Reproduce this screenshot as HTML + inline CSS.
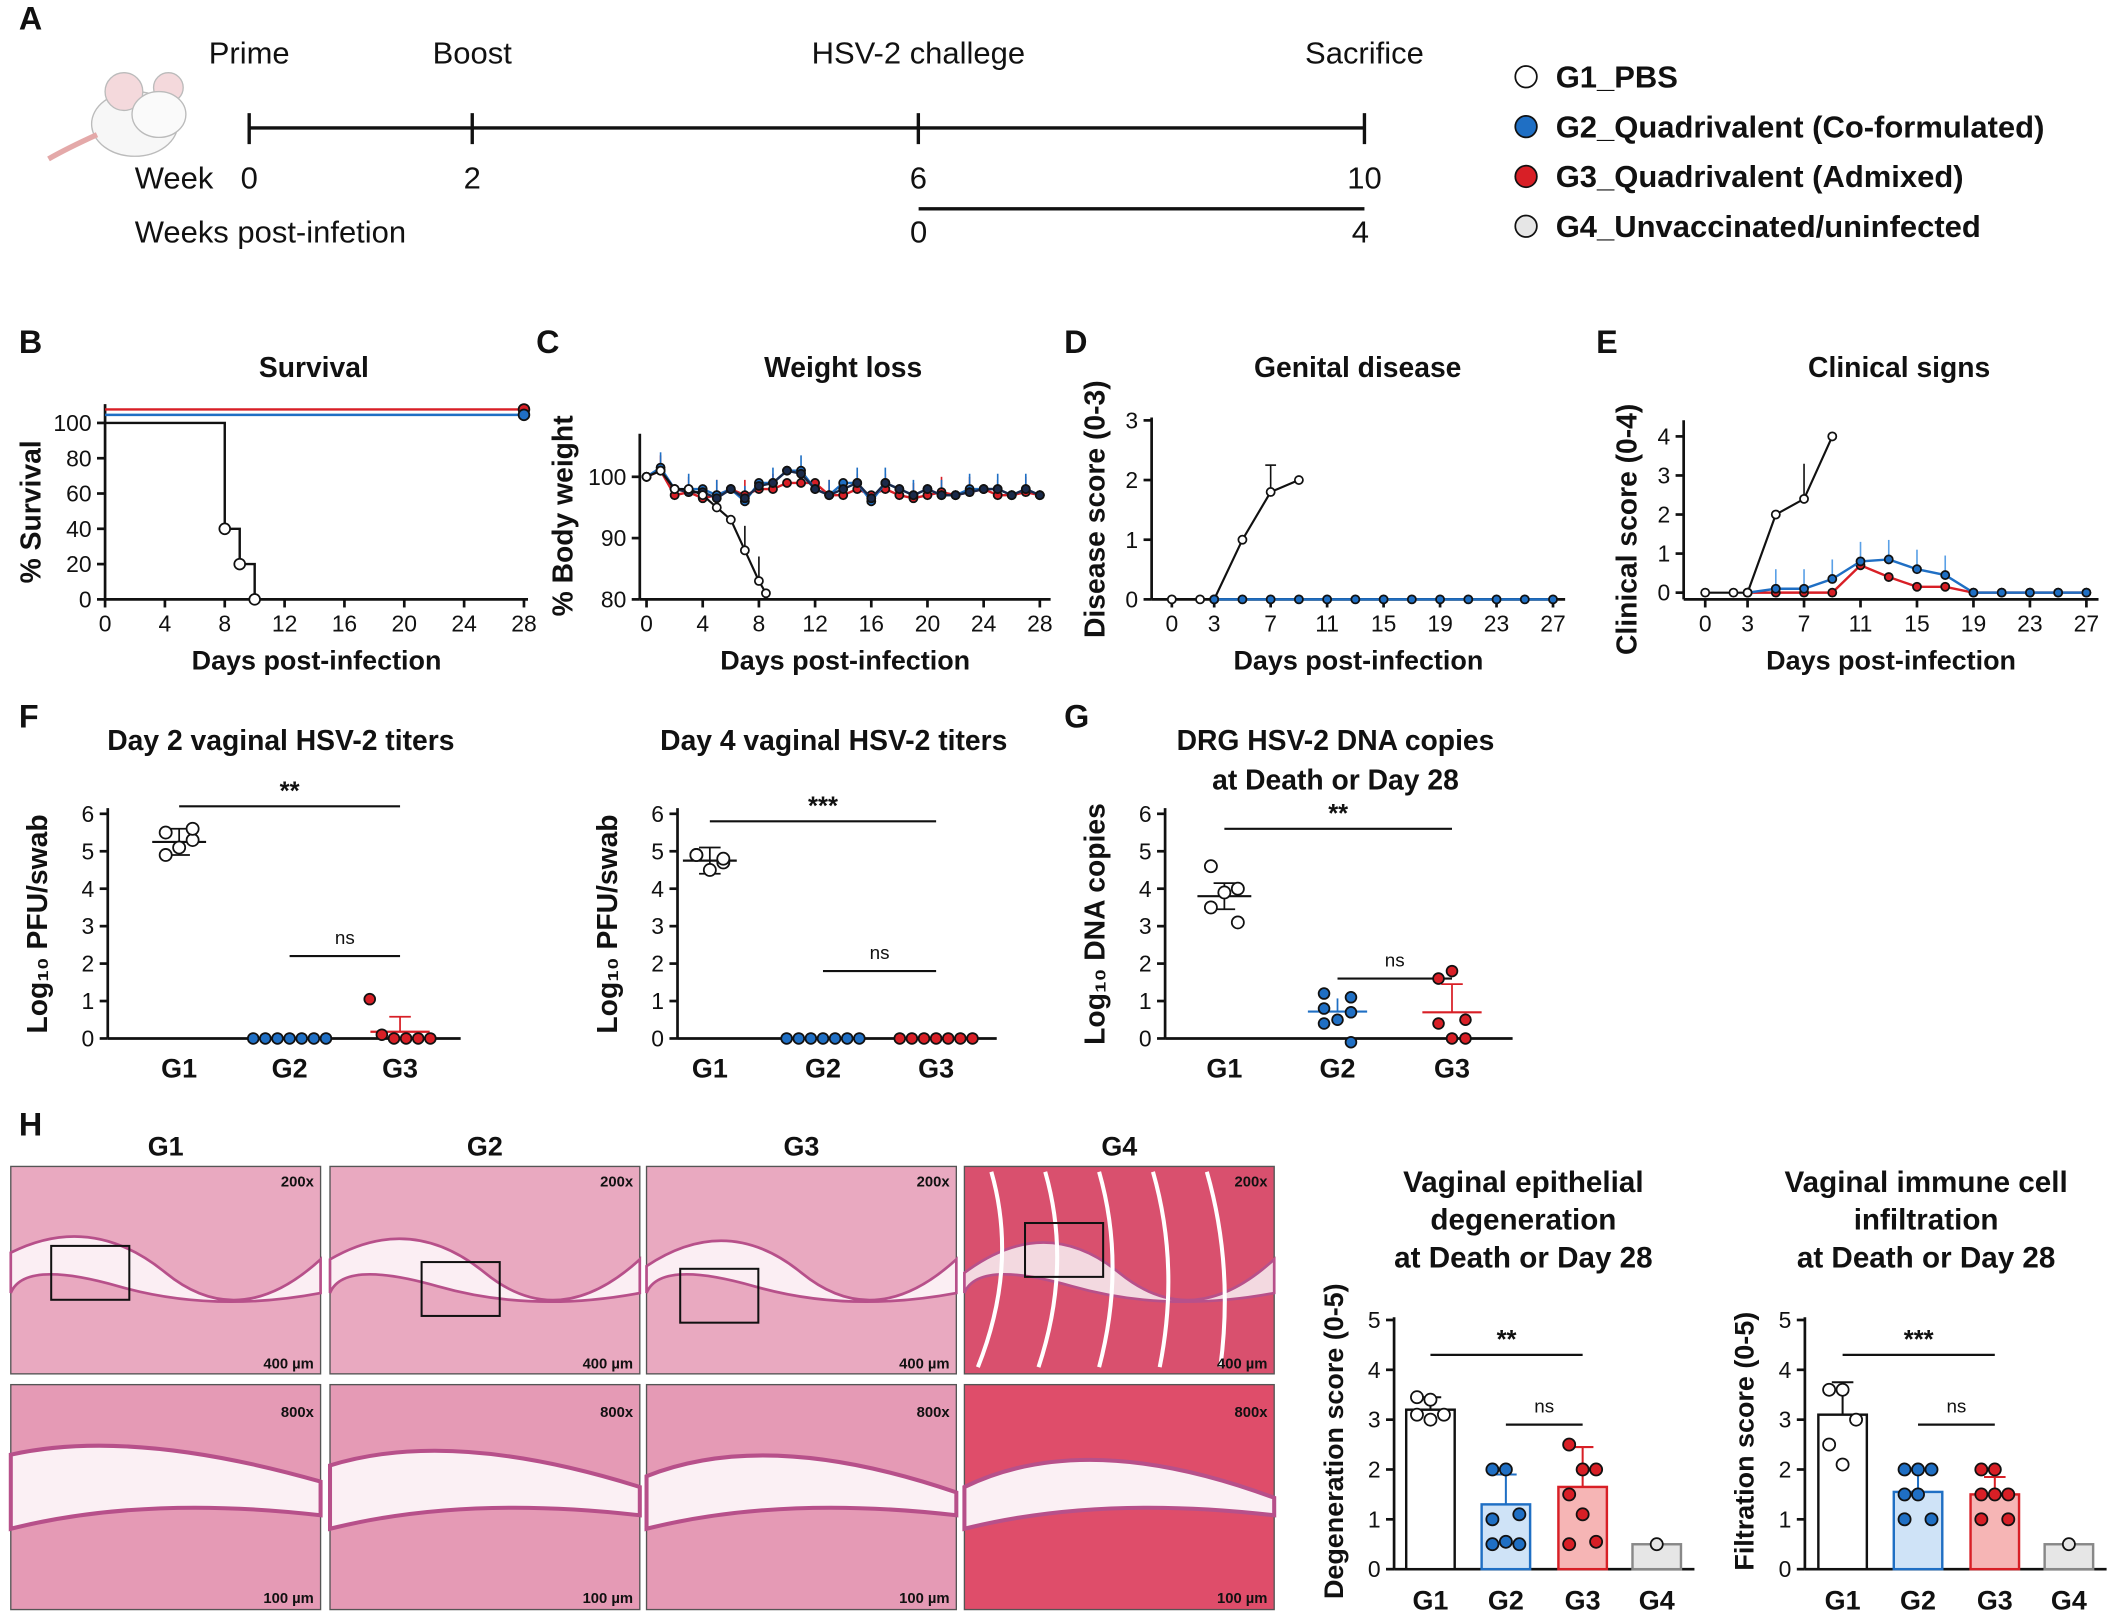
<!DOCTYPE html>
<html><head><meta charset="utf-8"><style>
html,body{margin:0;padding:0;background:#fff}
svg{display:block}
text{font-family:"Liberation Sans",Arial,sans-serif}
</style></head><body>
<svg id="fig" width="2112" height="1619" viewBox="0 0 1568 1202" xmlns="http://www.w3.org/2000/svg"></svg>
<script>
// ---------- DATA ----------
const legendLabels=["G1_PBS","G2_Quadrivalent (Co-formulated)","G3_Quadrivalent (Admixed)","G4_Unvaccinated/uninfected"];
const legendColors=["#fff","#1f6fc4","#d81f26","#e6e6e6"];
const timelineWeeks=[0,2,6,10];
const timelineEvents=["Prime","Boost","HSV-2 challege","Sacrifice"];
const survDaysG1=[0,8,8,9,9,10];
const survValsG1=[100,100,40,40,20,20];
const survPtsDays=[8,9,10];
const survPtsVals=[40,20,0];
const wDays=[0,1,2,3,4,5,6,7,8,9,10,11,12,13,14,15,16,17,18,19,20,21,22,23,24,25,26,27,28];
const wG1Days=[0,1,2,3,4,5,6,7,8,8.5];
const wG1=[100,101,98,98,97,95,93,88,83,81];
const wG2=[100,101.5,98,98,98,97,98,96,99,99,101,101,98,97,99,99,96,99,98,97,98,97,97,98,98,98,97,98,97];
const wG3=[100,101,97,97.5,96.5,97,98,97,98,98,99,99,99,97,97,98,97,98,97,96.5,97,97.5,97,97.5,98,97,97,97.5,97];
const wG4=[100,101,98,97.5,97.5,96.5,98,96.5,98.5,99,101,100.5,98,97,98,99,96.5,99,98,97,98,97,97,97.5,98,98,97,98,97];
const dDaysG1=[0,2,3,5,7,9];
const dG1=[0,0,0,1,1.8,2];
const dDaysG2=[3,5,7,9,11,13,15,17,19,21,23,25,27];
const dG2=[0,0,0,0,0,0,0,0,0,0,0,0,0];
const cG1=[0,0,0,2,2.4,4];
const cG2=[0,0.1,0.1,0.35,0.8,0.85,0.6,0.45,0,0,0,0,0];
const cG3=[0,0,0,0,0.7,0.4,0.15,0.15,0,0,0,0,0];
const f2G1=[5.5,5.3,5.1,4.9,5.6];
const f2G3=[1.05,0.1,0,0,0,0];
const f4G1=[4.9,4.7,4.5,4.9,4.8];
const gG1=[4.6,4.0,3.9,3.5,3.1];
const gG2=[1.2,1.1,0.8,0.7,0.5,0.4,-0.1];
const gG3=[1.8,1.6,0.5,0.4,0,0];
const barCats=["G1","G2","G3","G4"];
const degVals=[3.2,1.3,1.65,0.5];
const degErr=[0.25,0.6,0.8,0];
const degPts=[[3.45,3.4,3.1,3.1,3.0],[2.0,2.0,1.1,1.0,0.55,0.5,0.5],[2.5,2.0,2.0,1.5,1.1,0.55,0.5],[0.5]];
const filVals=[3.1,1.55,1.5,0.5];
const filErr=[0.65,0.45,0.35,0];
const filPts=[[3.6,3.6,3.0,2.5,2.1],[2.0,2.0,2.0,1.5,1.5,1.0,1.0],[2.0,2.0,1.5,1.5,1.5,1.0,1.0],[0.5]];

// ---------- helpers ----------
const NS="http://www.w3.org/2000/svg";const svg=document.getElementById('fig');
function mk(tag,attrs,parent,txt){const e=document.createElementNS(NS,tag);for(const k in attrs)e.setAttribute(k,attrs[k]);if(txt!==undefined)e.textContent=txt;(parent||svg).appendChild(e);return e;}
function T(x,y,s,size,opt){opt=opt||{};const e=mk('text',{x:x,y:y,'font-size':size,'text-anchor':opt.a||'middle','font-weight':opt.b?'bold':'normal',fill:opt.f||'#111'},opt.p,s);if(opt.r)e.setAttribute('transform',`rotate(-90 ${x} ${y})`);return e;}
function L(x1,y1,x2,y2,c,w,p){return mk('line',{x1,y1,x2,y2,stroke:c||'#111','stroke-width':w||2},p);}
function C(x,y,r,f,p){return mk('circle',{cx:x,cy:y,r:r||4,fill:f,stroke:'#111','stroke-width':1.3},p);}
function poly(xs,ys,c,w,p){return mk('polyline',{points:xs.map((x,i)=>x+','+ys[i]).join(' '),fill:'none',stroke:c,'stroke-width':w||1.8},p);}

[["A",14,22],["B",14,262],["C",398,262],["D",790,262],["E",1185,262],["F",14,540],["G",790,540],["H",14,843]].forEach(a=>{const t=T(a[1],a[2],a[0],24,{a:'start',b:1});});

// ---------- Panel A ----------
const gA=mk('g',{});
mk('ellipse',{cx:100,cy:92,rx:32,ry:24,fill:'#f7f7f7',stroke:'#bbb'},gA);
mk('circle',{cx:92,cy:68,r:14,fill:'#f4d9dc',stroke:'#bbb'},gA);
mk('circle',{cx:125,cy:65,r:11,fill:'#f4d9dc',stroke:'#bbb'},gA);
mk('ellipse',{cx:118,cy:85,rx:20,ry:17,fill:'#fafafa',stroke:'#bbb'},gA);
mk('path',{d:'M72 100 Q50 110 36 118',fill:'none',stroke:'#e4a9a9','stroke-width':4},gA);
const wx=w=>185+w*82.8;
L(185,95,1013,95,'#111',2.5,gA);
timelineWeeks.forEach((w,i)=>{L(wx(w),84,wx(w),107,'#111',2.5,gA);T(wx(w),140,String(w),23,{p:gA});T(wx(w),47,timelineEvents[i],23,{p:gA});});
T(100,140,"Week",23,{a:'start',p:gA});
L(682,155,1013,155,'#111',2.5,gA);T(682,180,"0",23,{p:gA});T(1010,180,"4",23,{p:gA});
T(100,180,"Weeks post-infetion",23,{a:'start',p:gA});
const gL=mk('g',{});
legendLabels.forEach((s,i)=>{const y=57+i*37;const g=mk('g',{},gL);C(1133,y,8,legendColors[i],g);T(1155,y+8,s,23,{a:'start',b:1,p:g});});

function axes(name,x0,y0,x1,y1,xt,yt,xs,ys,title,xlab,ylab,tx){
 const g=mk('g',{});
 L(x0,y0,x0,y1,'#111',2,g);L(x0,y0,x1,y0,'#111',2,g);
 if(xt)xt.forEach(v=>{L(xs(v),y0,xs(v),y0+6,'#111',2,g);T(xs(v),y0+24,String(v),17,{p:g});});
 yt.forEach(v=>{L(x0-6,ys(v),x0,ys(v),'#111',2,g);T(x0-10,ys(v)+6,String(v),17,{a:'end',p:g});});
 if(title)T(tx||(x0+x1)/2,280,title,21,{b:1,p:g});
 if(xlab)T((x0+x1)/2,497,xlab,20,{b:1,p:g});
 return g;
}
{const xs=d=>78+d*(311/28),ys=v=>445-v*1.31;
 const g=axes('survival-chart',78,445,392,300,[0,4,8,12,16,20,24,28],[0,20,40,60,80,100],xs,ys,"Survival","Days post-infection",null,233);
 T(30,380,"% Survival",21,{b:1,r:1,p:g});
 L(78,304,389,304,'#d81f26',1.8,g);C(389,304,4,'#d81f26',g);
 L(78,308,389,308,'#1f6fc4',1.8,g);C(389,308,4,'#1f6fc4',g);
 const sx=[],sy=[];survDaysG1.forEach((d,i)=>{sx.push(xs(d));sy.push(ys(survValsG1[i]));});
 sx.push(xs(10));sy.push(ys(0));poly(sx,sy,'#111',1.8,g);
 survPtsDays.forEach((d,i)=>C(xs(d),ys(survPtsVals[i]),4,'#fff',g));}
{const xs=d=>480+d*(292/28),ys=v=>445-(v-80)*4.55;
 const g=axes('weight-loss-chart',475,445,780,322,[0,4,8,12,16,20,24,28],[80,90,100],xs,ys,"Weight loss","Days post-infection",null,626);
 T(425,383,"% Body weight",21,{b:1,r:1,p:g});
 [[wG3,'#d81f26'],[wG2,'#1f6fc4']].forEach(s=>s[0].forEach((v,i)=>{if(i%2==1)L(xs(wDays[i]),ys(v),xs(wDays[i]),ys(v+2.5),s[1],1.2,g);}));
 [[wG3,'#d81f26'],[wG2,'#1f6fc4'],[wG4,'#1a2a4a']].forEach(s=>{poly(wDays.map(xs),s[0].map(ys),s[1],1.8,g);s[0].forEach((v,i)=>C(xs(wDays[i]),ys(v),3,s[1],g));});
 L(xs(7),ys(88),xs(7),ys(92),'#111',1.2,g);L(xs(8),ys(83),xs(8),ys(87),'#111',1.2,g);
 poly(wG1Days.map(xs),wG1.map(ys),'#111',1.6,g);wG1Days.forEach((d,i)=>C(xs(d),ys(wG1[i]),3,'#fff',g));}
{const xs=d=>870+d*(283/27),ys=v=>445-v*44.3;
 const g=axes('genital-disease-chart',855,445,1162,310,[0,3,7,11,15,19,23,27],[0,1,2,3],xs,ys,"Genital disease","Days post-infection",null,1008);
 T(820,378,"Disease score (0-3)",21,{b:1,r:1,p:g});
 L(xs(7),ys(1.8),xs(7),ys(2.25),'#111',1.2,g);L(xs(7)-4,ys(2.25),xs(7)+4,ys(2.25),'#111',1.2,g);
 poly(dDaysG1.map(xs),dG1.map(ys),'#111',1.6,g);dDaysG1.forEach((d,i)=>C(xs(d),ys(dG1[i]),3,'#fff',g));
 poly(dDaysG2.map(xs),dG2.map(ys),'#1f6fc4',1.8,g);dDaysG2.forEach((d,i)=>C(xs(d),ys(dG2[i]),3,'#1f6fc4',g));}
{const xs=d=>1266+d*(283/27),ys=v=>440-v*29;
 const g=axes('clinical-signs-chart',1250,445,1558,312,[0,3,7,11,15,19,23,27],[0,1,2,3,4],xs,ys,"Clinical signs","Days post-infection",null,1410);
 T(1215,393,"Clinical score (0-4)",21,{b:1,r:1,p:g});
 cG2.forEach((v,i)=>{if(v>0)L(xs(dDaysG2[i]),ys(v),xs(dDaysG2[i]),ys(v+0.5),'#5aa0e6',1.2,g);});
 L(xs(7),ys(2.4),xs(7),ys(3.3),'#111',1.2,g);
 poly(dDaysG2.map(xs),cG3.map(ys),'#d81f26',1.8,g);dDaysG2.forEach((d,i)=>C(xs(d),ys(cG3[i]),3,'#d81f26',g));
 poly(dDaysG2.map(xs),cG2.map(ys),'#1f6fc4',1.8,g);dDaysG2.forEach((d,i)=>C(xs(d),ys(cG2[i]),3,'#1f6fc4',g));
 poly(dDaysG1.map(xs),cG1.map(ys),'#111',1.6,g);dDaysG1.forEach((d,i)=>C(xs(d),ys(cG1[i]),3,'#fff',g));}

function dot(name,ax,cx,title,title2,ylab,sig,sigY,g1,g2,g3,g1m,g3m,g3e,g2m){
 const ys=v=>771-v*27.8;
 const g=mk('g',{});
 L(ax,771,ax,600,'#111',2,g);L(ax,771,cx[2]+45,771,'#111',2,g);
 [0,1,2,3,4,5,6].forEach(v=>{L(ax-6,ys(v),ax,ys(v),'#111',2,g);T(ax-10,ys(v)+6,String(v),17,{a:'end',p:g});});
 ["G1","G2","G3"].forEach((s,i)=>T(cx[i],800,s,20,{b:1,p:g}));
 T((ax+cx[2]+40)/2,557,title,21,{b:1,p:g});if(title2)T((ax+cx[2]+40)/2,586,title2,21,{b:1,p:g});
 T(ax-45,686,ylab,21,{b:1,r:1,p:g});
 L(cx[0],ys(sigY),cx[2],ys(sigY),'#111',1.6,g);T((cx[0]+cx[2])/2,ys(sigY)-5,sig,19,{b:1,p:g});
 L(cx[1],ys(sigY-4),cx[2],ys(sigY-4),'#111',1.6,g);T((cx[1]+cx[2])/2,ys(sigY-4)-9,"ns",14,{p:g});
 const offs=n=>Array.from({length:n},(_,i)=>(i-(n-1)/2)*9);
 L(cx[0]-20,ys(g1m),cx[0]+20,ys(g1m),'#111',1.6,g);const sd=0.35;L(cx[0],ys(g1m+sd),cx[0],ys(g1m-sd),'#111',1.3,g);L(cx[0]-8,ys(g1m+sd),cx[0]+8,ys(g1m+sd),'#111',1.3,g);L(cx[0]-8,ys(g1m-sd),cx[0]+8,ys(g1m-sd),'#111',1.3,g);
 g1.forEach((v,i)=>C(cx[0]+[-10,10,0,-10,10][i%5],ys(v),4.5,'#fff',g));
 L(cx[1]-22,ys(g2m),cx[1]+22,ys(g2m),'#1f6fc4',1.6,g);
 if(g2m>0){L(cx[1],ys(g2m),cx[1],ys(g2m+0.35),'#1f6fc4',1.3,g);}
 L(cx[2]-22,ys(g3m),cx[2]+22,ys(g3m),'#d81f26',1.6,g);
 if(g3e>0){L(cx[2],ys(g3m),cx[2],ys(g3m+g3e),'#d81f26',1.3,g);L(cx[2]-8,ys(g3m+g3e),cx[2]+8,ys(g3m+g3e),'#d81f26',1.3,g);}
 const o2=offs(g2.length);g2.forEach((v,i)=>C(cx[1]+(g2m>0?[-10,10,-10,10,0,-10,10][i]:o2[i]),ys(v),4,'#1f6fc4',g));
 const o3=offs(g3.length);g3.forEach((v,i)=>C(cx[2]+(g3m>0.3?[0,-10,10,-10,10,0][i]:o3[i]),ys(v),4,'#d81f26',g));
}
const zeros7=[0,0,0,0,0,0,0];
dot('day2-titers-chart',80,[133,215,297],"Day 2 vaginal HSV-2 titers",null,"Log\u2081\u2080 PFU/swab","**",6.2,f2G1,zeros7,f2G3,5.25,0.18,0.4,0);
dot('day4-titers-chart',503,[527,611,695],"Day 4 vaginal HSV-2 titers",null,"Log\u2081\u2080 PFU/swab","***",5.8,f4G1,zeros7,[0,0,0,0,0,0,0],4.75,0,0,0);
dot('drg-dna-chart',865,[909,993,1078],"DRG HSV-2 DNA copies","at Death or Day 28","Log\u2081\u2080 DNA copies","**",5.6,gG1,gG2,gG3,3.8,0.7,0.75,0.72);

const imgs=[[8,245,480,716],["G1","G2","G3","G4"]];
imgs[0].forEach((x,i)=>{
 const g=mk('g',{});
 T(x+115,858,imgs[1][i],20,{b:1,p:g});
 const dark=i==3;
 mk('rect',{x:x,y:866,width:230,height:154,fill:dark?'#d9506e':'#e9a9c0',stroke:'#555'},g);
 mk('path',{d:`M${x} ${930+i*5} Q${x+60} ${900} ${x+115} ${945} T${x+230} ${935} L${x+230} ${960} Q${x+150} ${975} ${x+80} ${955} T${x} ${960} Z`,fill:dark?'#f3d9e0':'#fbeef3',stroke:'#b7508a','stroke-width':2},g);
 if(dark){for(let k=0;k<5;k++)mk('path',{d:`M${x+20+k*40} 870 Q${x+40+k*40} 940 ${x+10+k*45} 1015`,fill:'none',stroke:'#fff','stroke-width':3},g);}
 mk('rect',{x:x,y:1028,width:230,height:167,fill:dark?'#df4d6a':'#e59ab5',stroke:'#555'},g);
 mk('path',{d:`M${x} ${1080+i*8} Q${x+90} ${1060} ${x+230} ${1100+i*4} L${x+230} ${1125} Q${x+100} ${1110} ${x} ${1135} Z`,fill:'#fbf0f4',stroke:'#b7508a','stroke-width':3},g);
 mk('rect',{x:x+(i==0?30:i==1?68:i==2?25:45),y:i==0?925:i==1?937:i==2?942:908,width:58,height:40,fill:'none',stroke:'#111','stroke-width':1.5},g);
 T(x+225,881,"200x",11,{a:'end',b:1,p:g});T(x+225,1052,"800x",11,{a:'end',b:1,p:g});
 T(x+225,1016,"400 \u00b5m",11,{a:'end',b:1,p:g});T(x+225,1190,"100 \u00b5m",11,{a:'end',b:1,p:g});
});
T(1131,885,"Vaginal epithelial",22,{b:1});T(1131,913,"degeneration",22,{b:1});T(1131,941,"at Death or Day 28",22,{b:1});
T(1430,885,"Vaginal immune cell",22,{b:1});T(1430,913,"infiltration",22,{b:1});T(1430,941,"at Death or Day 28",22,{b:1});
function bars(name,ax,cx,vals,err,pts,ylab,sig){
 const ys=v=>1165-v*37;
 const g=mk('g',{});
 L(ax,1165,ax,978,'#111',2,g);L(ax,1165,cx[3]+28,1165,'#111',2,g);
 [0,1,2,3,4,5].forEach(v=>{L(ax-6,ys(v),ax,ys(v),'#111',2,g);T(ax-10,ys(v)+6,String(v),17,{a:'end',p:g});});
 const fills=['#fff','#cfe3f7','#f6b5b5','#e6e6e6'],strokes=['#111','#1f6fc4','#d81f26','#888'],pf=['#fff','#1f6fc4','#d81f26','#e6e6e6'];
 vals.forEach((v,i)=>{
  const b=mk('rect',{x:cx[i]-18,y:ys(v),width:36,height:ys(0)-ys(v),fill:fills[i],stroke:strokes[i],'stroke-width':1.8},g);
  
  
  if(err[i]>0){L(cx[i],ys(v),cx[i],ys(v+err[i]),strokes[i],1.5,g);L(cx[i]-8,ys(v+err[i]),cx[i]+8,ys(v+err[i]),strokes[i],1.5,g);}
  const n=pts[i].length;pts[i].forEach((p,k)=>C(cx[i]+(n==1?0:((k%3)-1)*10),ys(p),4.5,pf[i],g));
  T(cx[i],1195,barCats[i],20,{b:1,p:g});
 });
 T(ax-38,1070,ylab,20,{b:1,r:1,p:g});
 L(cx[0],ys(4.3),cx[2],ys(4.3),'#111',1.6,g);T((cx[0]+cx[2])/2,ys(4.3)-5,sig,19,{b:1,p:g});
 L(cx[1],ys(2.9),cx[2],ys(2.9),'#111',1.6,g);T((cx[1]+cx[2])/2,ys(2.9)-9,"ns",14,{p:g});
}
bars('degeneration-chart',1035,[1062,1118,1175,1230],degVals,degErr,degPts,"Degeneration score (0-5)","**");
bars('filtration-chart',1340,[1368,1424,1481,1536],filVals,filErr,filPts,"Filtration score (0-5)","***");
</script>
</body></html>
